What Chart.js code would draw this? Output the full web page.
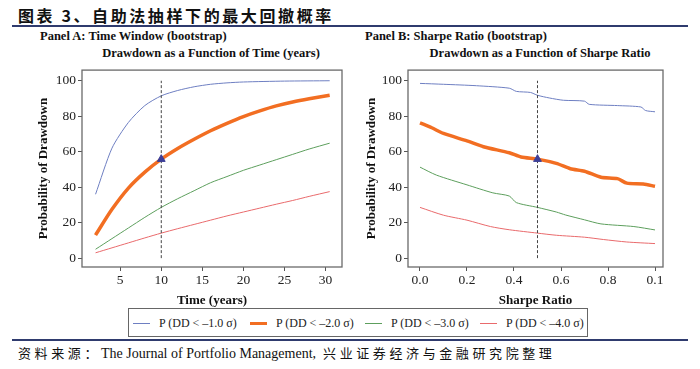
<!DOCTYPE html>
<html>
<head>
<meta charset="utf-8">
<script src="https://cdn.jsdelivr.net/npm/chart.js@4/dist/chart.umd.min.js"></script>
<style>
    body { margin: 0; width: 700px; height: 369px; background: #fff; position: relative; overflow: hidden; font-family: "Liberation Serif", "DejaVu Serif", serif; color: #222; }
    .abs { position: absolute; white-space: nowrap; }
    #title { left: 18px; top: 3px; font-family: "Noto Sans CJK SC", sans-serif; font-weight: bold; font-size: 16px; letter-spacing: 2.6px; color: #111; }
    .rule { position: absolute; left: 12px; width: 676px; height: 2px; background: #2f3b6e; }
    .ptitle { font-weight: bold; font-size: 12.5px; color: #111; }
    .sub { font-weight: bold; font-size: 12.5px; color: #111; transform: translateX(-50%); }
    #legend { left: 128px; top: 308px; width: 458px; height: 27px; border: 1px solid #666; display: flex; align-items: center; font-size: 12px; }
    .item { position: absolute; top: 7px; display: flex; align-items: center; }
    .swatch { display: inline-block; width: 17px; margin-right: 9px; }
    #source { left: 18px; top: 343px; font-size: 14px; color: #111; }
    .cjk { font-family: "Noto Sans CJK SC", sans-serif; font-size: 13px; letter-spacing: 3.6px; }
    canvas { position: absolute; }
</style>
</head>
<body>
<div id="title" class="abs">图表 3、自助法抽样下的最大回撤概率</div>
<div class="rule" style="top:25px"></div>

<div class="abs ptitle" style="left:40px; top:29px">Panel A: Time Window (bootstrap)</div>
<div class="abs sub" style="left:211px; top:46px">Drawdown as a Function of Time (years)</div>
<div class="abs ptitle" style="left:365px; top:29px">Panel B: Sharpe Ratio (bootstrap)</div>
<div class="abs sub" style="left:540px; top:46px">Drawdown as a Function of Sharpe Ratio</div>

<canvas id="chartA" width="350" height="248" style="left:0; top:60px; width:350px; height:248px"></canvas>
<canvas id="chartB" width="350" height="248" style="left:350px; top:60px; width:350px; height:248px"></canvas>

<div id="legend" class="abs"></div>
<div class="rule" style="top:339px"></div>
<div id="source" class="abs"><span class="cjk">资料来源：</span>The Journal of Portfolio Management,&nbsp; <span class="cjk">兴业证券经济与金融研究院整理</span></div>

<script>
    // Series labels and colours
    const seriesLabels = ['P (DD < \u20131.0 \u03c3)', 'P (DD < \u20132.0 \u03c3)', 'P (DD < \u20133.0 \u03c3)', 'P (DD < \u20134.0 \u03c3)'];
    const seriesColors = ['#6e7fc2', '#f26e22', '#5d9f5d', '#e96a6c'];
    const seriesWidths = [1, 3.5, 1, 1];

    // Panel A: probability vs time window (years)
    const yearsBlue = [2, 4, 6, 8, 10, 12, 14, 16, 18, 20, 25, 30.5];
    const ddBlue = [36, 62, 76.5, 86, 91.5, 94.5, 96.6, 98, 98.8, 99.3, 99.8, 100];
    const yearsOther = [2, 4, 6, 8, 10, 12, 14, 16, 18, 20, 22, 24, 26, 28, 30.5];
    const ddOrange = [13, 27.5, 39.5, 48.5, 55.8, 61.8, 67, 71.8, 76, 79.8, 83, 85.8, 88, 89.8, 91.8];
    const ddGreen = [5, 11, 17, 23, 28.6, 33.5, 38, 42.5, 46, 49.5, 52.5, 55.5, 58.5, 61.5, 64.8];
    const ddRed = [3, 5.8, 8.6, 11.4, 14.1, 16.6, 19, 21.4, 23.8, 26, 28.2, 30.4, 32.5, 34.8, 37.5];

    // Panel B: probability vs Sharpe ratio
    const sharpeBlue = [0, 0.1, 0.24, 0.38, 0.41, 0.47, 0.5, 0.55, 0.61, 0.7, 0.72, 0.84, 0.94, 0.96, 1.0];
    const ddBlueB = [98.5, 98, 97.2, 95.8, 94, 93.4, 91.8, 90.3, 89, 88.5, 86.7, 86, 85.2, 83.2, 82.5];
    const sharpeOrange = [0, 0.05, 0.1, 0.2, 0.27, 0.38, 0.43, 0.5, 0.58, 0.64, 0.7, 0.77, 0.84, 0.88, 0.95, 1.0];
    const ddOrangeB = [76.3, 73.5, 70.3, 66.1, 62.8, 59.4, 57, 55.8, 53.4, 50.4, 49, 45.6, 44.8, 42.3, 41.8, 40.5];
    const sharpeGreen = [0, 0.07, 0.2, 0.31, 0.38, 0.41, 0.5, 0.58, 0.62, 0.7, 0.77, 0.91, 1.0];
    const ddGreenB = [51.3, 46.8, 41.3, 36.8, 35, 31.3, 28.6, 26, 24.3, 21.6, 19.3, 17.8, 15.9];
    const sharpeRed = [0, 0.1, 0.2, 0.3, 0.38, 0.5, 0.58, 0.7, 0.78, 0.88, 1.0];
    const ddRedB = [28.6, 24.2, 21.4, 17.8, 16, 14.1, 12.9, 11.8, 10.5, 9.1, 8.2];

    // Reference markers
    const markerA = { x: 10, y: 55.8 };
    const markerB = { x: 0.5, y: 55.8 };

    // Tick labels
    const yTicks = [0, 20, 40, 60, 80, 100];
    const xTicksA = [5, 10, 15, 20, 25, 30];
    const xTicksB = [0, 0.2, 0.4, 0.6, 0.8, 1.0];
    const xTickLabelsB = ['0.0', '0.2', '0.4', '0.6', '0.8', '0.1'];

    const zip = (xs, ys) => xs.map((x, i) => ({ x: x, y: ys[i] }));
    const tickFont = { family: 'Liberation Serif', size: 13.5 };
    const titleFont = { family: 'Liberation Serif', size: 13, weight: 'bold' };

    // box around the plot area
    const frame = {
        id: 'frame',
        afterDraw(chart) {
            const a = chart.chartArea;
            const c = chart.ctx;
            c.save();
            c.strokeStyle = '#6a6a6a';
            c.lineWidth = 1.3;
            c.strokeRect(a.left, a.top, a.right - a.left, a.bottom - a.top);
            c.restore();
        }
    };

    function makeChart(id, series, marker, xOpts, yPadLeft, yWidth, padRight) {
        const datasets = series.map((s, i) => ({
            label: seriesLabels[i],
            data: s,
            borderColor: seriesColors[i],
            borderWidth: seriesWidths[i],
            pointRadius: 0,
            tension: 0.25,
            order: 4 - i
        }));
        datasets.push({
            label: 'ref',
            data: [{ x: marker.x, y: 0 }, { x: marker.x, y: 100 }],
            borderColor: '#444',
            borderWidth: 1,
            borderDash: [3, 2],
            pointRadius: 0,
            order: 0
        });
        datasets.push({
            label: 'marker',
            type: 'scatter',
            data: [marker],
            pointStyle: 'triangle',
            pointRadius: 4.5,
            backgroundColor: '#3d3f98',
            borderColor: '#3d3f98',
            order: -1
        });

        return new Chart(document.getElementById(id), {
            type: 'line',
            data: { datasets: datasets },
            plugins: [frame],
            options: {
                responsive: false,
                animation: false,
                layout: { padding: { left: yPadLeft, right: padRight, top: 3, bottom: 0 } },
                plugins: { legend: { display: false }, tooltip: { enabled: false } },
                scales: {
                    x: Object.assign({
                        type: 'linear',
                        border: { display: false },
                        grid: { drawOnChartArea: false, drawTicks: true, tickLength: 4, color: '#555' },
                        ticks: { color: '#222', font: tickFont, padding: 1, maxRotation: 0 },
                        afterFit(scale) { scale.height = 41; }
                    }, xOpts),
                    y: {
                        type: 'linear',
                        min: -5, max: 106,
                        border: { display: false },
                        grid: { drawOnChartArea: false, drawTicks: true, tickLength: 4, color: '#555' },
                        ticks: { color: '#222', font: tickFont, padding: 2 },
                        afterBuildTicks(scale) { scale.ticks = yTicks.map(v => ({ value: v })); },
                        title: { display: true, text: 'Probability of Drawdown', color: '#111', font: titleFont, padding: 0 },
                        afterFit(scale) { scale.width = yWidth; }
                    }
                }
            }
        });
    }

    makeChart('chartA',
        [zip(yearsBlue, ddBlue), zip(yearsOther, ddOrange), zip(yearsOther, ddGreen), zip(yearsOther, ddRed)],
        markerA,
        {
            min: 0.35, max: 32,
            title: { display: true, text: 'Time (years)', color: '#111', font: titleFont, padding: { top: 1, bottom: 0 } },
            afterBuildTicks(scale) { scale.ticks = xTicksA.map(v => ({ value: v })); }
        },
        36, 46, 8);

    makeChart('chartB',
        [zip(sharpeBlue, ddBlueB), zip(sharpeOrange, ddOrangeB), zip(sharpeGreen, ddGreenB), zip(sharpeRed, ddRedB)],
        markerB,
        {
            min: -0.051, max: 1.034,
            title: { display: true, text: 'Sharpe Ratio', color: '#111', font: titleFont, padding: { top: 1, bottom: 0 } },
            afterBuildTicks(scale) { scale.ticks = xTicksB.map(v => ({ value: v })); },
            ticks: {
                color: '#222', font: tickFont, padding: 1, maxRotation: 0,
                callback: (v) => xTickLabelsB[xTicksB.indexOf(v)]
            }
        },
        14, 44, 37);

    // legend
    const legend = document.getElementById('legend');
    const itemLeft = [4, 121, 236, 351];
    seriesLabels.forEach((lab, i) => {
        const el = document.createElement('div');
        el.className = 'item';
        el.style.left = itemLeft[i] + 'px';
        const sw = document.createElement('span');
        sw.className = 'swatch';
        sw.style.borderTop = (i === 1 ? 3.5 : 1.2) + 'px solid ' + seriesColors[i];
        el.appendChild(sw);
        el.appendChild(document.createTextNode(lab));
        legend.appendChild(el);
    });
</script>
</body>
</html>
